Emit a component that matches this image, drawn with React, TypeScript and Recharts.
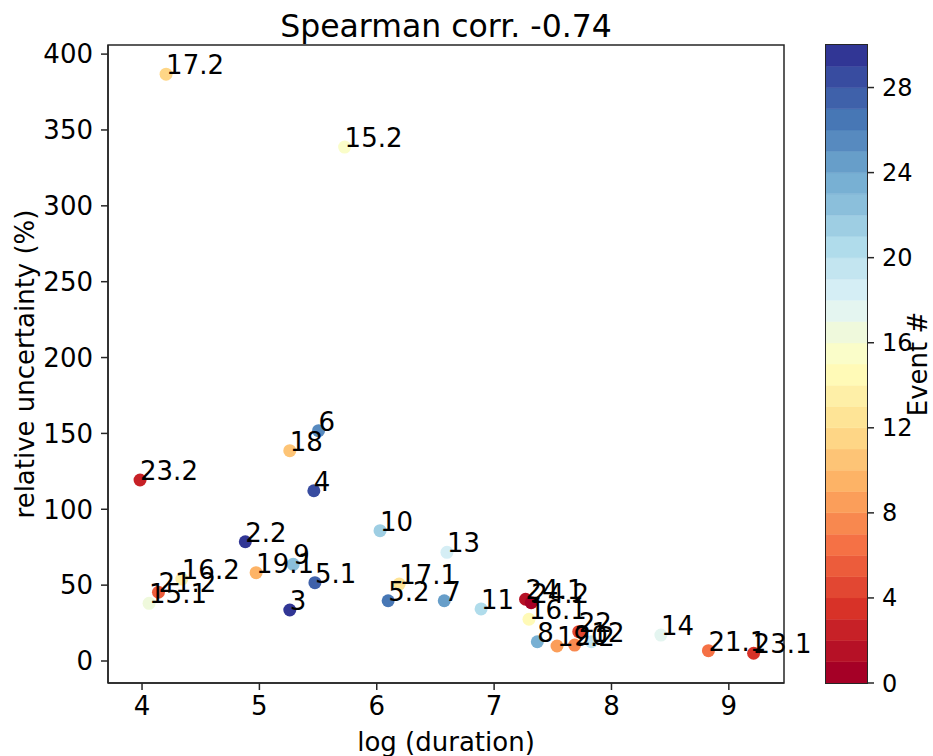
import {
  Bar,
  BarChart,
  Customized,
  ReferenceArea,
  Scatter,
  ScatterChart,
  XAxis,
  YAxis,
} from "recharts";

// event ids, written next to each point
const eventLabels = [
  "2.2", "3", "4", "5.1", "5.2", "6", "7", "8", "9", "10", "11", "12", "13", "14", "15.1",
  "15.2", "16.1", "16.2", "17.1", "17.2", "18", "19.1", "19.2", "20", "21.1", "21.2", "22",
  "23.1", "23.2", "24.1", "24.2",
];

// colour value on the "Event #" bar
const eventNumber = [
  30, 29, 28, 27, 26, 25, 24, 23, 22, 21, 20, 19, 18, 17, 16, 15, 14, 13, 12, 11, 10, 9, 8, 7,
  6, 5, 4, 3, 2, 1, 0,
];

const logDuration = [
  4.88, 5.259, 5.464, 5.473, 6.097, 5.504, 6.575, 7.368, 5.288, 6.028, 6.889, 7.829, 6.598,
  8.421, 4.06, 5.726, 7.297, 4.339, 6.191, 4.205, 5.259, 4.972, 7.536, 7.686, 8.826, 4.14,
  7.721, 9.211, 3.983, 7.268, 7.316,
];

const relUncertainty = [
  78.6, 33.6, 112.2, 51.6, 39.7, 151.8, 39.7, 12.7, 63.7, 85.9, 34.3, 12.7, 71.6, 17.1, 38.0,
  338.7, 27.5, 54.0, 50.7, 386.8, 138.6, 58.2, 9.9, 10.5, 6.8, 45.3, 19.3, 5.1, 119.3, 40.7,
  38.4,
];

const xTicks = [4, 5, 6, 7, 8, 9];
const yTicks = [0, 50, 100, 150, 200, 250, 300, 350, 400];
const cbTicks = [0, 4, 8, 12, 16, 20, 24, 28];

const X_DOMAIN = [3.71, 9.47];
const Y_DOMAIN = [-14.5, 406];

const RDYLBU = [
  "#a50026", "#d73027", "#f46d43", "#fdae61", "#fee090", "#ffffbf",
  "#e0f3f8", "#abd9e9", "#74add1", "#4575b4", "#313695",
];
const N_LEVELS = 30;
const FONT = "'DejaVu Sans', sans-serif";
const INK = "#262626";
const FS = 26;

function hexToRgb(h: string) {
  return [1, 3, 5].map((i) => parseInt(h.slice(i, i + 2), 16));
}

function rdylbu(t: number) {
  const s = Math.max(0, Math.min(1, t)) * 10;
  const i = Math.min(9, Math.floor(s));
  const f = s - i;
  const a = hexToRgb(RDYLBU[i]);
  const b = hexToRgb(RDYLBU[i + 1]);
  const c = a.map((v, k) => Math.round(v + (b[k] - v) * f));
  return `rgb(${c[0]},${c[1]},${c[2]})`;
}

function levelColor(v: number) {
  const k = Math.min(N_LEVELS - 1, Math.max(0, Math.floor(v)));
  return rdylbu(k / (N_LEVELS - 1));
}

const points = eventLabels.map((label, i) => ({
  label,
  ev: eventNumber[i],
  x: logDuration[i],
  y: relUncertainty[i],
}));

const levels = Array.from({ length: N_LEVELS }, (_, k) => k);
const cbRow: Record<string, number | string> = { name: "cb" };
levels.forEach((k) => (cbRow[`l${k}`] = 1));

const tickStyle = { fill: "#000", fontSize: FS, fontFamily: FONT };
const cbTickStyle = { fill: "#000", fontSize: 24, fontFamily: FONT };
const tickLine = { stroke: INK, strokeWidth: 1.5 };

const Dot = (props: any) => {
  const { cx, cy, payload } = props;
  return <circle cx={cx} cy={cy} r={6.5} fill={levelColor(payload.ev)} />;
};

const Tag = (props: any) => {
  const { cx, cy, payload } = props;
  return (
    <text x={cx} y={cy} fontSize={FS} fontFamily={FONT} fill="#000">
      {payload.label}
    </text>
  );
};

const Title = () => (
  <text x={446} y={37} textAnchor="middle" fontSize={31.5} fontFamily={FONT} fill="#000">
    Spearman corr. -0.74
  </text>
);

const EventLabel = (props: any) => {
  const vb = props.viewBox || { x: 41, y: 45, width: 66, height: 638 };
  const x = vb.x + 51;
  const y = vb.y + vb.height / 2;
  return (
    <text
      x={x}
      y={y}
      transform={`rotate(-90, ${x}, ${y})`}
      textAnchor="middle"
      dominantBaseline="central"
      fontSize={FS}
      fontFamily={FONT}
      fill="#000"
    >
      Event #
    </text>
  );
};

export default function App() {
  return (
    <div
      style={{
        position: "absolute",
        left: 0,
        top: 0,
        width: 933,
        height: 756,
        background: "#fff",
        fontFamily: FONT,
      }}
    >
      <div style={{ position: "absolute", left: 0, top: 0 }}>
        <ScatterChart width={826} height={756} margin={{ top: 45, right: 42, bottom: 3, left: 10 }}>
          <XAxis
            type="number"
            dataKey="x"
            domain={X_DOMAIN}
            ticks={xTicks}
            height={70}
            tickSize={7}
            tickMargin={7}
            tick={tickStyle}
            tickLine={tickLine}
            stroke={INK}
            strokeWidth={1.5}
            label={{
              value: "log (duration)",
              position: "insideBottom",
              offset: 2,
              style: { fill: "#000", fontSize: FS, fontFamily: FONT },
            }}
          />
          <YAxis
            type="number"
            dataKey="y"
            domain={Y_DOMAIN}
            ticks={yTicks}
            width={98}
            tickSize={7}
            tickMargin={8}
            tick={tickStyle}
            tickLine={tickLine}
            stroke={INK}
            strokeWidth={1.5}
            label={{
              value: "relative uncertainty (%)",
              angle: -90,
              position: "insideLeft",
              offset: 15,
              style: { textAnchor: "middle", fill: "#000", fontSize: FS, fontFamily: FONT },
            }}
          />
          <ReferenceArea
            x1={X_DOMAIN[0]}
            x2={X_DOMAIN[1]}
            y1={Y_DOMAIN[0]}
            y2={Y_DOMAIN[1]}
            ifOverflow="visible"
            fill="none"
            fillOpacity={0}
            stroke={INK}
            strokeWidth={1.5}
          />
          <Scatter data={points} shape={Dot} isAnimationActive={false} />
          <Scatter data={points} shape={Tag} isAnimationActive={false} />
          <Customized component={Title} />
        </ScatterChart>
      </div>
      <div style={{ position: "absolute", left: 826, top: 0 }}>
        <BarChart
          width={107}
          height={756}
          data={[cbRow]}
          margin={{ top: 45, right: 0, bottom: 73, left: 0 }}
          barCategoryGap={0}
          barGap={0}
        >
          <XAxis dataKey="name" type="category" hide />
          <YAxis
            orientation="right"
            type="number"
            domain={[0, N_LEVELS]}
            ticks={cbTicks}
            width={66}
            tickSize={7}
            tickMargin={8}
            tick={cbTickStyle}
            tickLine={tickLine}
            axisLine={false}
            stroke={INK}
            label={{ content: EventLabel }}
          />
          {levels.map((k) => (
            <Bar
              key={k}
              dataKey={`l${k}`}
              stackId="cb"
              fill={levelColor(k)}
              stroke={levelColor(k)}
              strokeWidth={0.5}
              isAnimationActive={false}
            />
          ))}
        </BarChart>
      </div>
      <div
        style={{
          position: "absolute",
          left: 825,
          top: 44,
          width: 41,
          height: 638,
          border: `1.5px solid ${INK}`,
          pointerEvents: "none",
        }}
      />
    </div>
  );
}
